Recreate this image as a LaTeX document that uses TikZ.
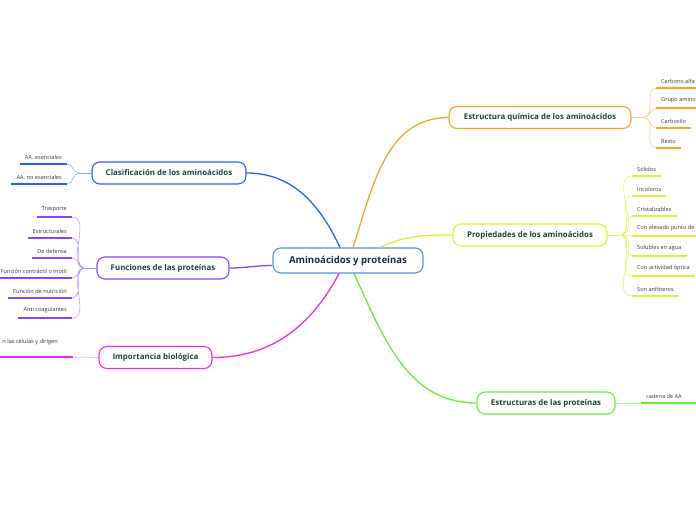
\documentclass[tikz,border=0pt]{standalone}
\usepackage{fontspec}
\setmainfont{Open Sans}
\definecolor{cRoot}{RGB}{80,150,220}
\definecolor{cRootText}{RGB}{25,40,85}
\definecolor{cText}{RGB}{25,70,55}
\definecolor{cLeaf}{RGB}{55,55,55}
\definecolor{cBlue}{RGB}{40,95,255}
\definecolor{cOrange}{RGB}{255,162,30}
\definecolor{cLime}{RGB}{215,245,50}
\definecolor{cPurple}{RGB}{130,70,255}
\definecolor{cMagenta}{RGB}{240,40,240}
\definecolor{cGreen}{RGB}{100,240,50}

\begin{document}
\begin{tikzpicture}[x=1pt, y=-1pt,
  box/.style = {draw, rounded corners=8pt, line width=1.1pt, fill=white, text=cText,
    font=\fontsize{7.9}{9}\selectfont\bfseries, minimum height=22pt, inner sep=2pt},
  root/.style = {box, draw=cRoot, text=cRootText, font=\fontsize{9.6}{11}\selectfont\bfseries, minimum height=25pt},
  leafr/.style = {anchor=south west, inner xsep=5pt, inner ysep=4.5pt, text=cLeaf,
    font=\fontsize{5.6}{6.5}\selectfont},
  leafl/.style = {leafr, anchor=south east},
  stem/.style = {line width=1.3pt},
  twig/.style = {line width=0.5pt},
  bar/.style = {line width=1.6pt}]
\useasboundingbox (0,0) rectangle (696,520);

% main topics
\node[root, minimum width=150pt] (root) at (348,260.5) {Aminoácidos y proteínas};
\node[box, draw=cOrange, minimum width=182pt] (estq) at (540,117.5) {Estructura química de los aminoácidos};
\node[box, draw=cLime, minimum width=154pt] (prop) at (530,235) {Propiedades de los aminoácidos};
\node[box, draw=cBlue, minimum width=154pt] (clas) at (169,173) {Clasificación de los aminoácidos};
\node[box, draw=cPurple, minimum width=132pt] (func) at (163,268) {Funciones de las proteínas};
\node[box, draw=cMagenta, minimum width=113pt] (imp) at (155.5,357.5) {Importancia biológica};
\node[box, draw=cGreen, minimum width=138pt] (estp) at (546,403) {Estructuras de las proteínas};

\draw[stem, cBlue] ([xshift=-8pt]root.north) to[out=115, in=0] (clas.east);
\draw[stem, cOrange] ([xshift=5pt]root.north) to[out=72, in=180] (estq.west);
\draw[stem, cLime] ([xshift=32pt]root.north) to[out=25, in=180] (prop.west);
\draw[stem, cPurple] ([yshift=-5pt]root.west) to[out=180, in=0] (func.east);
\draw[stem, cMagenta] ([xshift=-9pt]root.south) to[out=-118, in=0] (imp.east);
\draw[stem, cGreen] ([xshift=6pt]root.south) to[out=-65, in=180] (estp.west);

% estructura quimica
\coordinate (estqf) at (644,117.5);
\draw[twig, cOrange!60] (estq.east) -- (estqf);
\node[leafr] (q1) at (656,88) {Carbono alfa};
\node[leafr] (q2) at (656,108) {Grupo amino};
\node[leafr] (q3) at (656,128) {Carboxilo};
\node[leafr] (q4) at (656,148) {Resto};
\draw[twig, cOrange!60] (estqf) to[out=0, in=180] (q1.south west) (estqf) to[out=0, in=180] (q2.south west)
  (estqf) to[out=0, in=180] (q3.south west) (estqf) to[out=0, in=180] (q4.south west);
\draw[bar, cOrange] (q1.south west) -- (q1.south east) (q2.south west) -- (q2.south east)
  (q3.south west) -- (q3.south east) (q4.south west) -- (q4.south east);

% propiedades
\coordinate (propf) at (620,235);
\draw[twig, cLime!80] (prop.east) -- (propf);
\node[leafr] (p1) at (632,176) {Sólidos};
\node[leafr] (p2) at (632,196) {Incoloros};
\node[leafr] (p3) at (632,216) {Cristalizables};
\node[leafr] (p4) at (632,236) {Con elevado punto de};
\node[leafr] (p5) at (632,256) {Solubles en agua};
\node[leafr] (p6) at (632,276) {Con actividad óptica};
\node[leafr] (p7) at (632,296) {Son anfóteros};
\draw[twig, cLime!80] (propf) to[out=0, in=180] (p1.south west) (propf) to[out=0, in=180] (p2.south west)
  (propf) to[out=0, in=180] (p3.south west) (propf) to[out=0, in=180] (p4.south west)
  (propf) to[out=0, in=180] (p5.south west) (propf) to[out=0, in=180] (p6.south west)
  (propf) to[out=0, in=180] (p7.south west);
\draw[bar, cLime] (p1.south west) -- (p1.south east) (p2.south west) -- (p2.south east)
  (p3.south west) -- (p3.south east) (p4.south west) -- (p4.south east)
  (p5.south west) -- (p5.south east) (p6.south west) -- (p6.south east)
  (p7.south west) -- (p7.south east);

% clasificacion
\coordinate (clasf) at (79,173);
\draw[twig, cBlue!55] (clas.west) -- (clasf);
\node[leafl] (c1) at (67,164) {AA. esenciales};
\node[leafl] (c2) at (67,184) {AA. no esenciales};
\draw[twig, cBlue!55] (clasf) to[out=180, in=0] (c1.south east) (clasf) to[out=180, in=0] (c2.south east);
\draw[bar, cBlue] (c1.south east) -- (c1.south west) (c2.south east) -- (c2.south west);

% funciones
\coordinate (funcf) at (85,268);
\draw[twig, cPurple!60] (func.west) -- (funcf);
\node[leafl] (f1) at (72,217) {Trasporte};
\node[leafl] (f2) at (72,238) {Estructurales};
\node[leafl] (f3) at (72,258) {De defensa};
\node[leafl] (f4) at (72,278) {Función contráctil o motil};
\node[leafl] (f5) at (72,298) {Función de nutrición};
\node[leafl] (f6) at (72,318) {Anti coagulantes};
\draw[twig, cPurple!60] (funcf) to[out=180, in=0] (f1.south east) (funcf) to[out=180, in=0] (f2.south east)
  (funcf) to[out=180, in=0] (f3.south east) (funcf) to[out=180, in=0] (f4.south east)
  (funcf) to[out=180, in=0] (f5.south east) (funcf) to[out=180, in=0] (f6.south east);
\draw[bar, cPurple] (f1.south east) -- (f1.south west) (f2.south east) -- (f2.south west)
  (f3.south east) -- (f3.south west) (f4.south east) -- (f4.south west)
  (f5.south east) -- (f5.south west) (f6.south east) -- (f6.south west);

% importancia
\node[leafr, anchor=east, inner sep=0pt] (i1) at (58,342) {n las células y dirigen};
\coordinate (i1a) at (73,357);
\coordinate (i1b) at (-2,357);
\draw[twig, cMagenta!50] (imp.west) -- (i1a);
\draw[bar, cMagenta] (i1a) -- (i1b);

% estructuras
\node[leafr] (e1) at (641,403) {cadena de AA};
\coordinate (e1b) at (698,403);
\draw[twig, cGreen!60] (estp.east) -- (e1.south west);
\draw[bar, cGreen] (e1.south west) -- (e1b);
\end{tikzpicture}
\end{document}
